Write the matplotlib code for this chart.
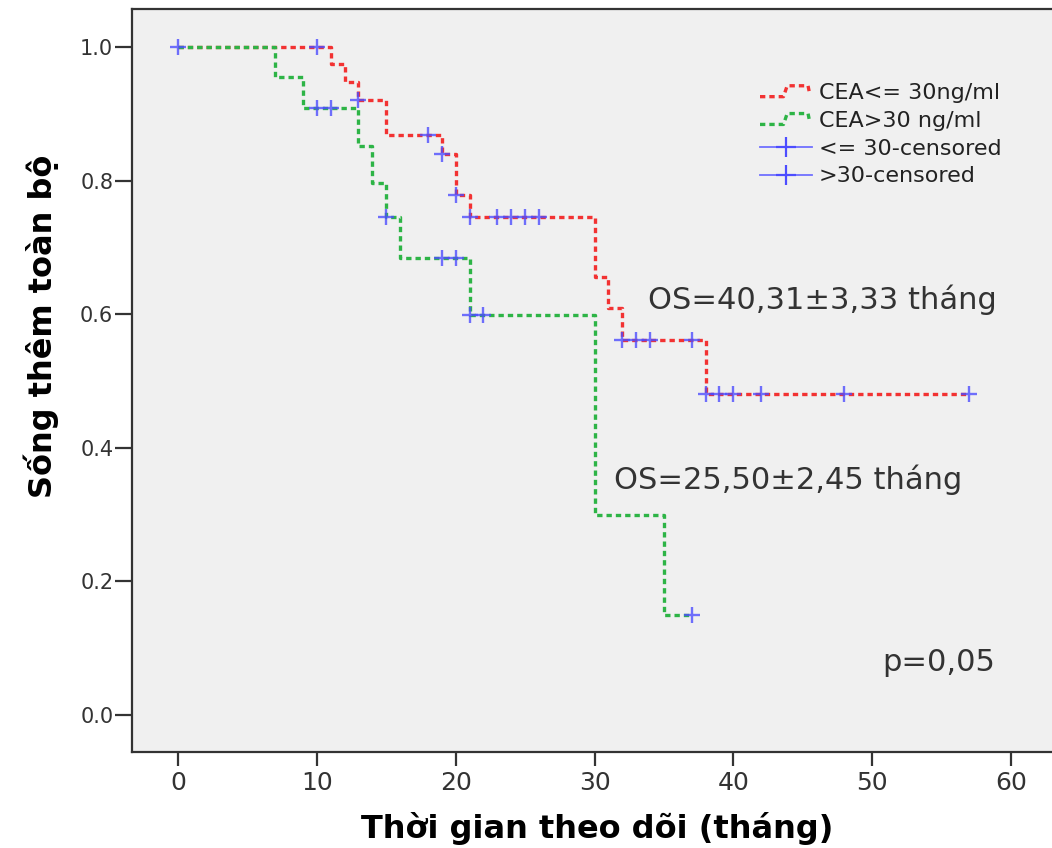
import numpy as np
import matplotlib
matplotlib.use("Agg")
import matplotlib.pyplot as plt
from matplotlib.lines import Line2D
from matplotlib.legend_handler import HandlerBase

# Kaplan-Meier estimate, CEA <= 30 ng/ml (event times and survival after each step)
low_times = [0, 11, 12, 13, 15, 19, 20, 21, 30, 31, 32, 38]
low_surv = [1.0, 0.974, 0.947, 0.921, 0.868, 0.840, 0.778, 0.746, 0.656, 0.609, 0.561, 0.481]
low_end = 57
low_censored = [0, 10, 13, 18, 19, 20, 21, 23, 24, 25, 26, 32, 33, 34, 37, 38, 39, 40, 42, 48, 57]

# Kaplan-Meier estimate, CEA > 30 ng/ml
high_times = [0, 7, 9, 13, 14, 15, 16, 21, 30, 35]
high_surv = [1.0, 0.955, 0.909, 0.852, 0.797, 0.746, 0.684, 0.599, 0.299, 0.150]
high_end = 37
high_censored = [10, 11, 15, 19, 20, 21, 22, 37]

series_labels = ["CEA<= 30ng/ml", "CEA>30 ng/ml"]
censor_labels = ["<= 30-censored", ">30-censored"]
x_ticks = [0, 10, 20, 30, 40, 50, 60]
y_ticks = [0.0, 0.2, 0.4, 0.6, 0.8, 1.0]
x_label = "Thời gian theo dõi (tháng)"
y_label = "Sống thêm toàn bộ"
os_low_text = "OS=40,31±3,33 tháng"
os_high_text = "OS=25,50±2,45 tháng"
p_text = "p=0,05"

RED = "#f23232"
GREEN = "#2db446"
BLUE = "#4d4dff"
FRAME = "#333333"
TXT = "#333333"


def step_values(times, surv, end):
    xs = list(times) + [end]
    ys = list(surv) + [surv[-1]]
    return xs, ys


def surv_at(times, surv, t):
    idx = np.searchsorted(np.asarray(times), np.asarray(t), side="right") - 1
    return np.asarray(surv)[idx]


class StepHandler(HandlerBase):
    """Legend key drawn as a small survival step."""

    def create_artists(self, legend, orig_handle, xdescent, ydescent,
                       width, height, fontsize, trans):
        fx = np.array([0.0, 0.45, 0.52, 0.92, 0.95])
        fy = np.array([0.15, 0.15, 0.85, 0.85, 0.35])
        line = Line2D(-xdescent + fx * width, -ydescent + fy * height)
        self.update_prop(line, orig_handle, legend)
        line.set_transform(trans)
        return [line]


fig = plt.figure(figsize=(10.52, 8.48), dpi=100)
fig.patch.set_facecolor("white")
ax = fig.add_axes([0.1255, 0.1132, 0.8745, 0.8762])
ax.set_facecolor("#f0f0f0")

dash = (1.6, 1.2)
lw = 2.4

lx, ly = step_values(low_times, low_surv, low_end)
hx, hy = step_values(high_times, high_surv, high_end)
ax.step(lx, ly, where="post", color=RED, lw=lw, dashes=dash, dash_capstyle="butt", zorder=2)
ax.step(hx, hy, where="post", color=GREEN, lw=lw, dashes=dash, dash_capstyle="butt", zorder=3)

marker_kw = dict(linestyle="none", marker="+", ms=12, mew=1.7, color=BLUE, alpha=0.8, zorder=4)
ax.plot(low_censored, surv_at(low_times, low_surv, low_censored), **marker_kw)
ax.plot(high_censored, surv_at(high_times, high_surv, high_censored), **marker_kw)

ax.set_xlim(-3.31, 62.95)
ax.set_ylim(-0.0554, 1.0569)
ax.set_xticks(x_ticks)
ax.set_xticklabels([str(v) for v in x_ticks])
ax.set_yticks(y_ticks)
ax.set_yticklabels([f"{v:.1f}" for v in y_ticks])

for side in ("left", "top", "bottom"):
    ax.spines[side].set_color(FRAME)
    ax.spines[side].set_linewidth(1.6)
ax.spines["right"].set_visible(False)

ax.tick_params(axis="x", length=10, width=1.6, color=FRAME, pad=3.5,
               labelsize=18, labelcolor=TXT)
ax.tick_params(axis="y", length=12.5, width=1.6, color=FRAME, pad=1,
               labelsize=15, labelcolor=TXT)
for lab in ax.get_xticklabels() + ax.get_yticklabels():
    lab.set_family("DejaVu Sans")

ax.set_xlabel(x_label, family="DejaVu Sans", fontweight="bold", fontsize=23,
              va="center", color="black")
ax.xaxis.set_label_coords(0.5054, -0.1036)
ax.set_ylabel(y_label, family="DejaVu Sans", fontweight="bold", fontsize=23,
              va="center", color="black")
ax.yaxis.set_label_coords(-0.0989, 0.573)

ax.text(33.85, 0.621, os_low_text, family="DejaVu Sans", fontsize=22,
        color=TXT, ha="left", va="center")
ax.text(31.4, 0.352, os_high_text, family="DejaVu Sans", fontsize=22,
        color=TXT, ha="left", va="center")
ax.text(50.7, 0.078, p_text, family="DejaVu Sans", fontsize=22,
        color=TXT, ha="left", va="center")

h_low = Line2D([], [], color=RED, lw=lw, dashes=dash)
h_high = Line2D([], [], color=GREEN, lw=lw, dashes=dash)
c_low = Line2D([], [], color="#7070ff", lw=1.3, marker="+", ms=14, mew=1.6, mec=BLUE)
c_high = Line2D([], [], color="#7070ff", lw=1.3, marker="+", ms=14, mew=1.6, mec=BLUE)
ax.legend(handles=[h_low, h_high, c_low, c_high],
          labels=series_labels + censor_labels,
          handler_map={h_low: StepHandler(), h_high: StepHandler()},
          loc="upper left", bbox_to_anchor=(0.6826, 0.9004),
          frameon=False, prop={"family": "DejaVu Sans", "size": 16},
          handlelength=2.35, handletextpad=0.3, labelspacing=0.35,
          borderpad=0, borderaxespad=0, numpoints=1, labelcolor="#222222")

fig.savefig("out.png", dpi=100)
